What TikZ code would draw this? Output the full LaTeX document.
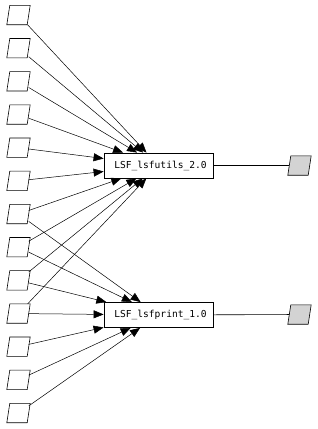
\documentclass[tikz,border=0pt]{standalone}
\usepackage{fontspec}
\setmonofont{DejaVu Sans Mono}
\usetikzlibrary{arrows.meta}
\definecolor{lgray}{HTML}{D3D3D3}
\begin{document}
\begin{tikzpicture}[x=1pt,y=-1pt,
  src/.style={rectangle, minimum width=20pt, minimum height=19pt,
    inner sep=0pt, draw=none},
  para/.style={draw, line width=0.6pt},
  pkg/.style={draw, rectangle, minimum width=109pt, minimum height=25pt,
    inner sep=0pt, font=\ttfamily\fontsize{9.6}{12}\selectfont, line width=0.8pt},
  dep/.style={-{Triangle[length=10pt,width=8pt]}, line width=0.5pt},
  link/.style={line width=0.6pt}]
\useasboundingbox (0,0) rectangle (317,429);
\foreach \i in {1,...,13}{
  \node[src] (s\i) at (18.5, {15+(\i-1)*33.17}) {};
  \draw[para] ([xshift=-1.5pt]s\i.south west) -- ([xshift=-1.5pt]s\i.south east)
    -- ([xshift=1.5pt]s\i.north east) -- ([xshift=1.5pt]s\i.north west) -- cycle;
}
\node[pkg] (u) at (158.5,165.5) {\hspace{4pt}LSF\_lsfutils\_2.0};
\node[pkg] (p) at (158.5,315) {\hspace{4pt}LSF\_lsfprint\_1.0};
\node[src] (gu) at (299.5,165.5) {};
\node[src] (gp) at (299.5,314.5) {};
\foreach \n in {gu,gp}
  \draw[para, fill=lgray] ([xshift=-1.5pt]\n.south west) -- ([xshift=-1.5pt]\n.south east)
    -- ([xshift=1.5pt]\n.north east) -- ([xshift=1.5pt]\n.north west) -- cycle;
\foreach \i in {1,...,10}
  \draw[dep] (s\i) -- (u);
\foreach \i in {7,...,13}
  \draw[dep] (s\i) -- (p);
\draw[link] (u) -- (gu);
\draw[link] (p) -- (gp);
\end{tikzpicture}
\end{document}
